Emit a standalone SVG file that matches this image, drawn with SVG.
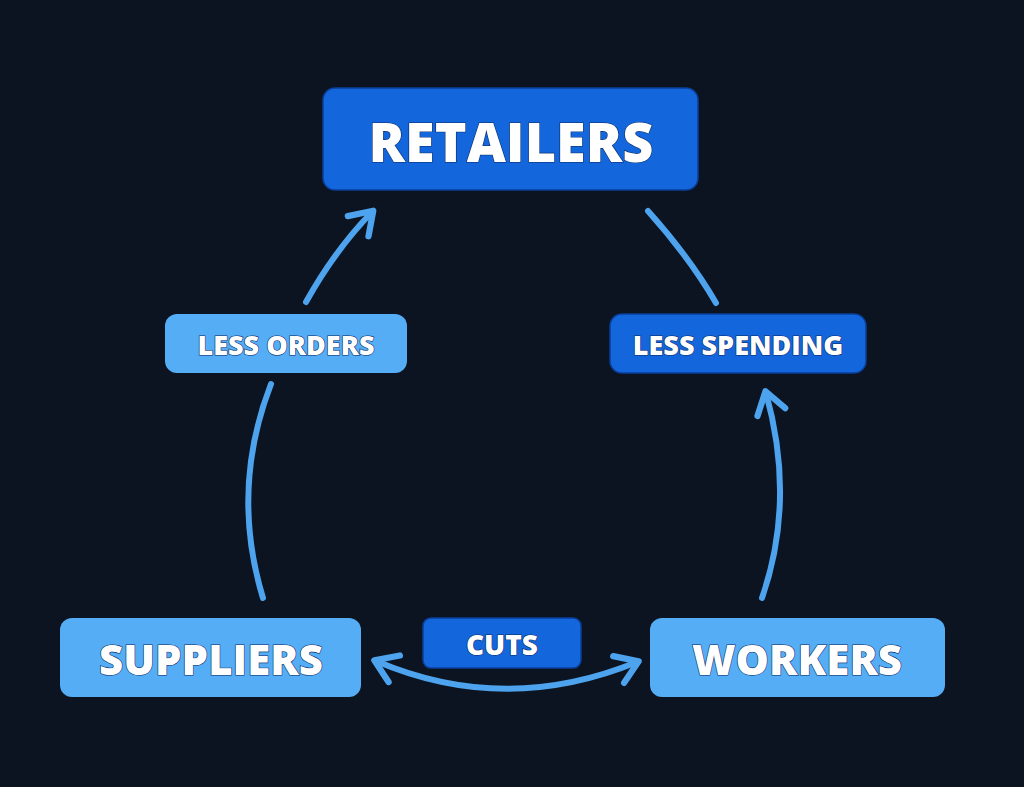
<svg xmlns="http://www.w3.org/2000/svg" width="1024" height="787" viewBox="0 0 1024 787">
<style>
.lt{fill:#55aef5}.dk{fill:#1366dc;stroke:#0b3f9a;stroke-width:1.5}
text{font-family:"Open Sans","DejaVu Sans",sans-serif;font-weight:800;fill:#fff;text-anchor:middle;stroke:#0a2a66;stroke-width:1.2;paint-order:stroke}
.c{fill:none;stroke:#4da3ee;stroke-width:6;stroke-linecap:round}
</style>
<defs>
<marker id="a" viewBox="0 0 20 20" refX="14" refY="10" markerWidth="6" markerHeight="6" orient="auto-start-reverse" markerUnits="strokeWidth">
<path d="M3,2 L15,10 L3,18" fill="none" stroke="#4da3ee" stroke-width="3.5" stroke-linecap="round" stroke-linejoin="round"/>
</marker>
</defs>
<rect width="1024" height="787" fill="#0b1420"/>
<g id="connectors">
<path class="c" d="M263,598 Q230,490 271,384"/>
<path class="c" d="M306,302 Q335,250 372,212" marker-end="url(#a)"/>
<path class="c" d="M716,303 Q690,258 648,211"/>
<path class="c" d="M762,598 Q796,500 766,393" marker-end="url(#a)"/>
<path class="c" d="M376,661 Q505,716 637,662" marker-start="url(#a)" marker-end="url(#a)"/>
</g>
<g id="retailers"><rect class="dk" x="323" y="88" width="375" height="102" rx="12"/><text x="511" y="162" font-size="54">RETAILERS</text></g>
<g id="less-orders"><rect class="lt" x="165" y="314" width="242" height="59" rx="12"/><text x="286" y="355" font-size="27">LESS ORDERS</text></g>
<g id="less-spending"><rect class="dk" x="610" y="314" width="256" height="59" rx="12"/><text x="738" y="355" font-size="27">LESS SPENDING</text></g>
<g id="suppliers"><rect class="lt" x="60" y="618" width="301" height="79" rx="12"/><text x="211" y="675" font-size="42">SUPPLIERS</text></g>
<g id="workers"><rect class="lt" x="650" y="618" width="295" height="79" rx="12"/><text x="797" y="675" font-size="42">WORKERS</text></g>
<g id="cuts"><rect class="dk" x="423" y="618" width="158" height="50" rx="8"/><text x="502" y="655" font-size="28">CUTS</text></g>
</svg>
